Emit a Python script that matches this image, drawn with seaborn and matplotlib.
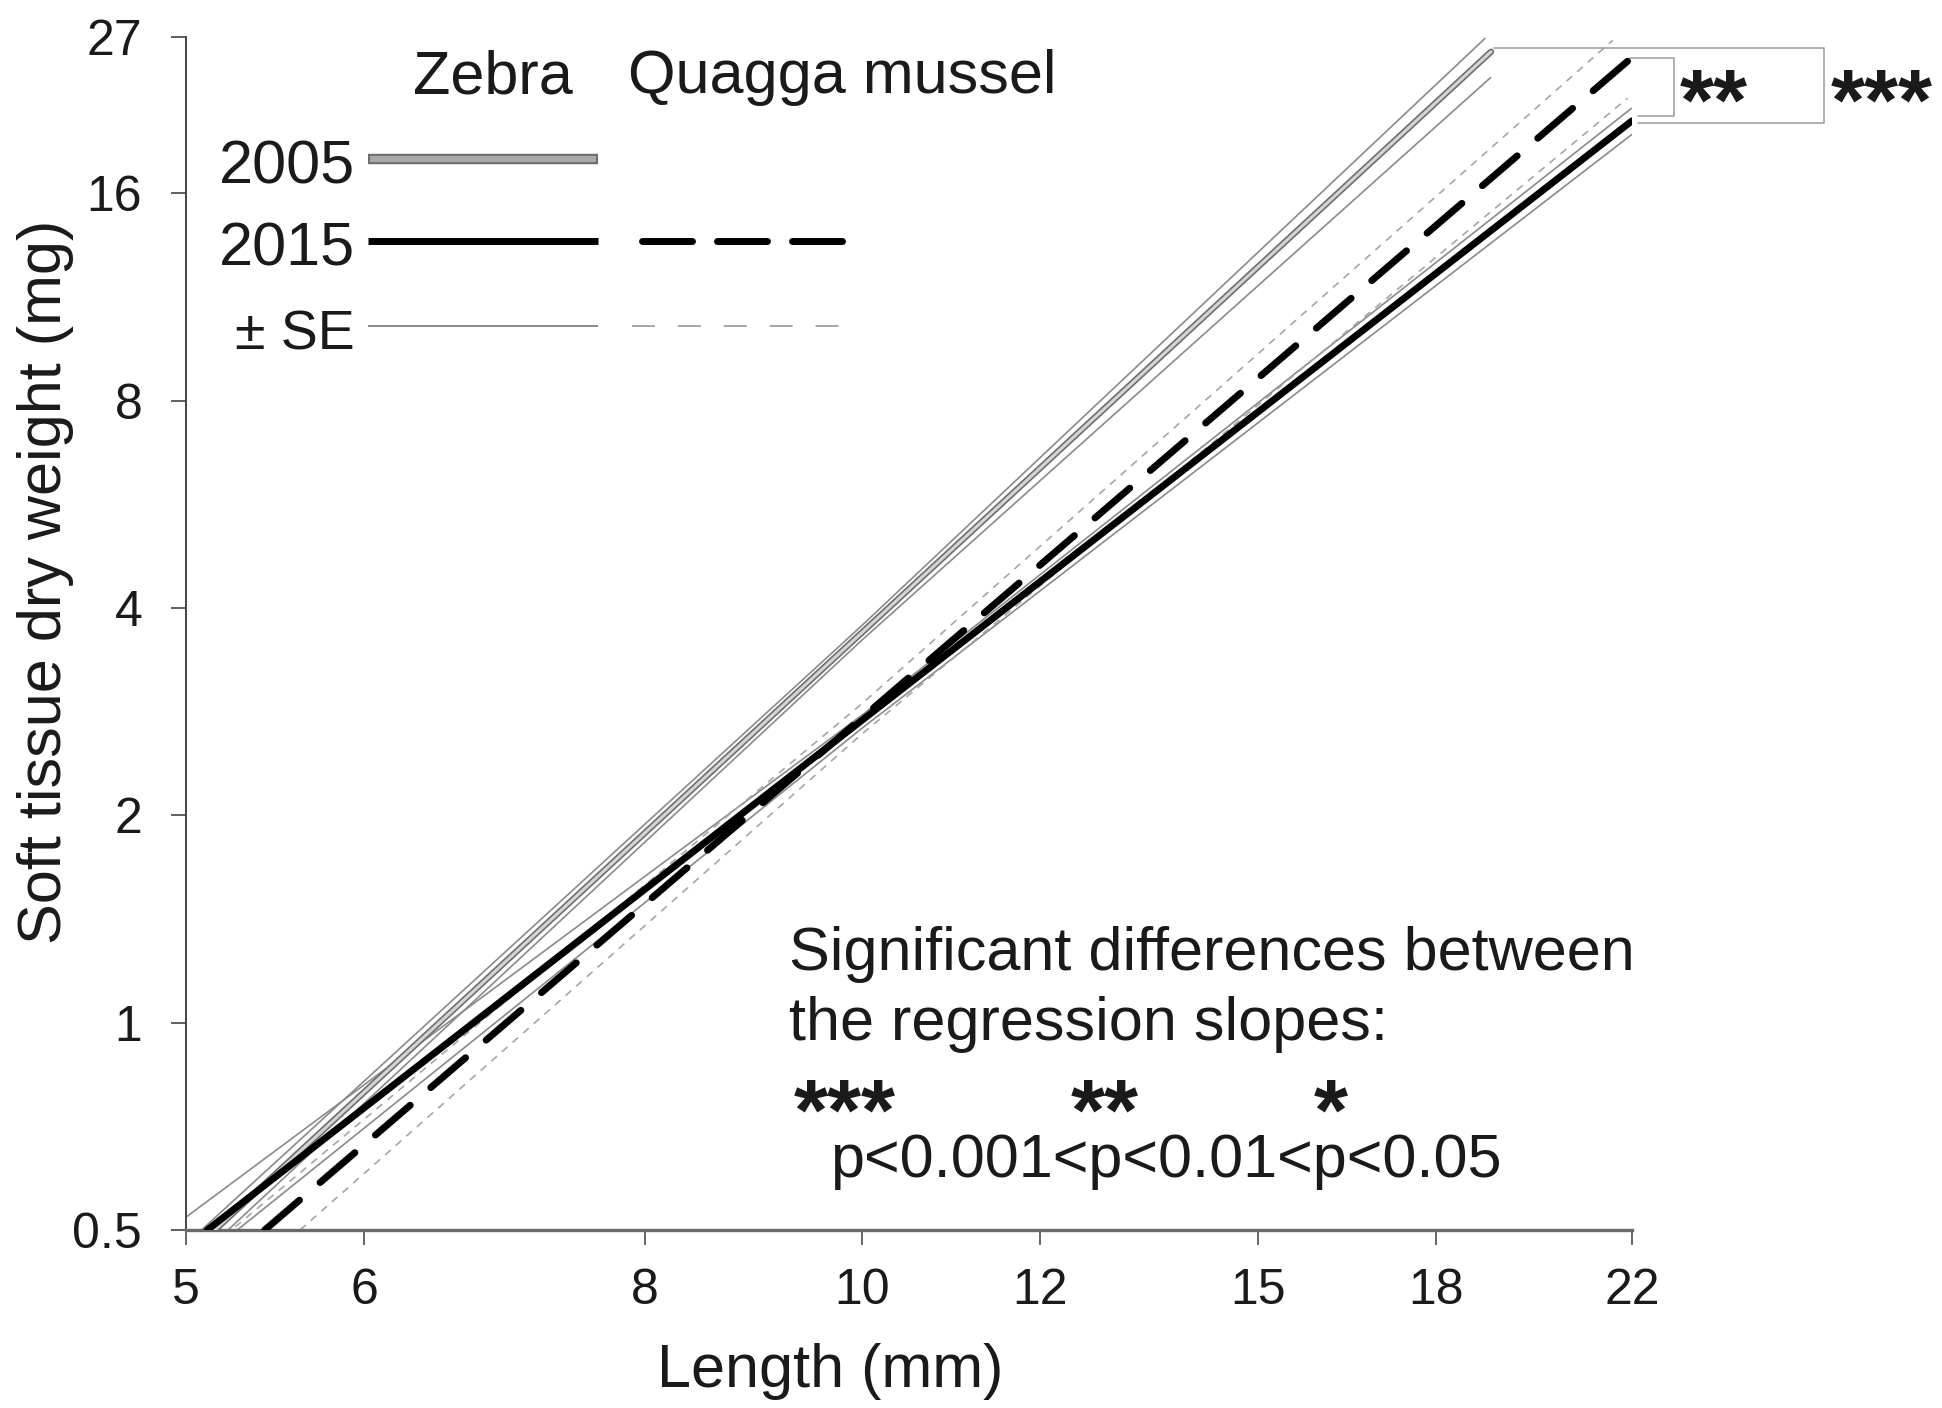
import numpy as np
import pandas as pd
import seaborn as sns
import matplotlib
matplotlib.use("Agg")
import matplotlib.pyplot as plt
from matplotlib.lines import Line2D
from matplotlib.ticker import FixedLocator, FixedFormatter, NullLocator

# ---------------- data ----------------
x_ticks = [5, 6, 8, 10, 12, 15, 18, 22]
x_tick_labels = ["5", "6", "8", "10", "12", "15", "18", "22"]
y_ticks = [0.5, 1, 2, 4, 8, 16, 27]
y_tick_labels = ["0.5", "1", "2", "4", "8", "16", "27"]

# Zebra mussel 2005 regression and +/- SE
zebra2005_x = [5.15, 19.04]
zebra2005_y = [0.50, 25.7]
zebra2005_up_x = [5.08, 10.0, 18.93]
zebra2005_up_y = [0.50, 3.78, 26.9]
zebra2005_lo_x = [5.22, 10.0, 19.04]
zebra2005_lo_y = [0.50, 3.60, 23.6]

# Zebra mussel 2015 regression and +/- SE
zebra2015_x = [5.11, 22.0]
zebra2015_y = [0.50, 20.4]
zebra2015_up_x = [5.00, 10.0, 22.0]
zebra2015_up_y = [0.522, 2.80, 21.3]
zebra2015_lo_x = [5.27, 10.0, 22.0]
zebra2015_lo_y = [0.50, 2.68, 19.5]

# Quagga mussel 2015 regression and +/- SE
quagga2015_x = [5.42, 21.9]
quagga2015_y = [0.50, 24.9]
quagga2015_up_x = [5.20, 10.0, 21.57]
quagga2015_up_y = [0.49, 2.91, 26.7]
quagga2015_lo_x = [5.62, 10.0, 21.9]
quagga2015_lo_y = [0.50, 2.63, 22.0]

# ---------------- style ----------------
sns.set_theme(style="white")
plt.rcParams["font.family"] = ["Liberation Sans", "DejaVu Sans"]
NARROW = ["Liberation Sans Narrow", "Liberation Sans", "DejaVu Sans"]

W, H = 1942, 1408
fig = plt.figure(figsize=(W / 100, H / 100), dpi=100)
ax = fig.add_axes([186 / W, 1 - 1230 / H, (1632 - 186) / W, (1230 - 37) / H])
ax.set_xscale("log")
ax.set_yscale("log")


def fx(px):
    return px / W


def fy(py):
    return 1 - py / H


def sline(x, y, color, lw, dashes=None, cap="round", z=2):
    sns.lineplot(x=x, y=y, ax=ax, color=color, linewidth=lw, estimator=None,
                 sort=False, errorbar=None, legend=False)
    ln = ax.lines[-1]
    ln.set_zorder(z)
    ln.set_solid_capstyle(cap)
    if dashes is not None:
        ln.set_dashes(dashes)
        ln.set_dash_capstyle(cap)
    return ln


SE_SOLID = "#8a8a8a"
SE_DASH = "#a6a6a6"
se_lw = 1.2
se_dash = (4.5, 4.0)
main_lw = 5.0
main_dash = (6.6, 3.9)

# SE lines
sline(zebra2005_up_x, zebra2005_up_y, SE_SOLID, se_lw, cap="butt")
sline(zebra2005_lo_x, zebra2005_lo_y, SE_SOLID, se_lw, cap="butt")
sline(zebra2015_up_x, zebra2015_up_y, SE_SOLID, se_lw, cap="butt")
sline(zebra2015_lo_x, zebra2015_lo_y, SE_SOLID, se_lw, cap="butt")
sline(quagga2015_up_x, quagga2015_up_y, SE_DASH, se_lw, dashes=se_dash, cap="butt")
sline(quagga2015_lo_x, quagga2015_lo_y, SE_DASH, se_lw, dashes=se_dash, cap="butt")

# 2005 zebra: double (outlined) line
sline(zebra2005_x, zebra2005_y, "#6e6e6e", 4.6, z=3)
sline(zebra2005_x, zebra2005_y, "#d4d4d4", 2.2, z=3.1)
# 2015 zebra solid, 2015 quagga dashed
sline(zebra2015_x, zebra2015_y, "black", main_lw, z=4)
sline(quagga2015_x, quagga2015_y, "black", main_lw, dashes=main_dash, z=5)

ax.set_xlim(5, 22)
ax.set_ylim(0.5, 27)

ax.xaxis.set_major_locator(FixedLocator(x_ticks))
ax.xaxis.set_major_formatter(FixedFormatter(x_tick_labels))
ax.xaxis.set_minor_locator(NullLocator())
ax.yaxis.set_major_locator(FixedLocator(y_ticks))
ax.yaxis.set_major_formatter(FixedFormatter(y_tick_labels))
ax.yaxis.set_minor_locator(NullLocator())

ax.tick_params(axis="x", bottom=True, direction="out", length=10.5, width=1.4,
               color="#666666", labelsize=36, pad=17, labelcolor="#1a1a1a")
ax.tick_params(axis="y", left=True, direction="out", length=10.5, width=1.2,
               color="#444444", labelsize=36, pad=21, labelcolor="#1a1a1a")
for lab in ax.get_xticklabels() + ax.get_yticklabels():
    lab.set_family(NARROW)

for s in ["top", "right"]:
    ax.spines[s].set_visible(False)
ax.spines["left"].set_color("#444444")
ax.spines["left"].set_linewidth(1.4)
ax.spines["bottom"].set_color("#6a6a6a")
ax.spines["bottom"].set_linewidth(2.4)
ax.grid(False)

ax.set_xlabel("Length (mm)", fontsize=44, color="#1a1a1a", va="center")
ax.xaxis.set_label_coords((830 - 186) / 1446, (1230 - 1371) / 1193)
ax.set_ylabel("Soft tissue dry weight (mg)", fontsize=44, color="#1a1a1a", va="center")
ax.yaxis.set_label_coords((46 - 186) / 1446, (1230 - 582) / 1193)

TXT = "#1a1a1a"
# ---------------- legend (drawn by hand) ----------------
fig.text(fx(493), fy(93), "Zebra", ha="center", va="baseline", fontsize=44, color=TXT)
fig.text(fx(628), fy(93), "Quagga mussel", ha="left", va="baseline", fontsize=44, color=TXT)
fig.text(fx(355), fy(183), "2005", ha="right", va="baseline", fontsize=44, color=TXT)
fig.text(fx(355), fy(266), "2015", ha="right", va="baseline", fontsize=44, color=TXT)
fig.text(fx(355), fy(349), "± SE", ha="right", va="baseline", fontsize=40, color=TXT,
         family=NARROW)


def fline(x0, x1, y, **kw):
    fig.add_artist(Line2D([fx(x0), fx(x1)], [fy(y), fy(y)], transform=fig.transFigure, **kw))


fline(368, 598, 159, color="#6e6e6e", lw=7.5, solid_capstyle="butt")
fline(370, 596, 159, color="#a9a9a9", lw=4.5, solid_capstyle="butt")
fline(368, 598, 241, color="black", lw=5.0, solid_capstyle="butt")
fline(642, 857, 241, color="black", lw=5.0, dashes=(7.2, 3.6), dash_capstyle="round")
fline(368, 598, 326, color=SE_SOLID, lw=1.4, solid_capstyle="butt")
fline(632, 861, 326, color=SE_DASH, lw=1.4, dashes=(11.8, 11.8), dash_capstyle="butt")

# ---------------- significance brackets ----------------
BR = "#9a9a9a"
fig.add_artist(Line2D([fx(1494), fx(1824), fx(1824), fx(1638)],
                      [fy(48), fy(48), fy(123), fy(123)],
                      transform=fig.transFigure, color=BR, lw=1.1))
fig.add_artist(Line2D([fx(1630), fx(1674), fx(1674), fx(1638)],
                      [fy(58), fy(58), fy(116), fy(116)],
                      transform=fig.transFigure, color=BR, lw=1.1))
STAR = 63
fig.text(fx(1714), fy(130), "**", ha="center", va="baseline", fontsize=STAR,
         fontweight="bold", color=TXT)
fig.text(fx(1882), fy(130), "***", ha="center", va="baseline", fontsize=STAR,
         fontweight="bold", color=TXT)

# ---------------- explanatory text ----------------
fig.text(fx(789), fy(970), "Significant differences between", ha="left", va="baseline",
         fontsize=44, color=TXT)
fig.text(fx(789), fy(1040), "the regression slopes:", ha="left", va="baseline",
         fontsize=44, color=TXT)
fig.text(fx(845), fy(1140), "***", ha="center", va="baseline", fontsize=STAR,
         fontweight="bold", color=TXT)
fig.text(fx(1105), fy(1140), "**", ha="center", va="baseline", fontsize=STAR,
         fontweight="bold", color=TXT)
fig.text(fx(1331), fy(1140), "*", ha="center", va="baseline", fontsize=STAR,
         fontweight="bold", color=TXT)
fig.text(fx(830), fy(1177), "p<0.001<p<0.01<p<0.05", ha="left", va="baseline",
         fontsize=44, color=TXT)

fig.savefig("out.png", dpi=100, facecolor="white")
